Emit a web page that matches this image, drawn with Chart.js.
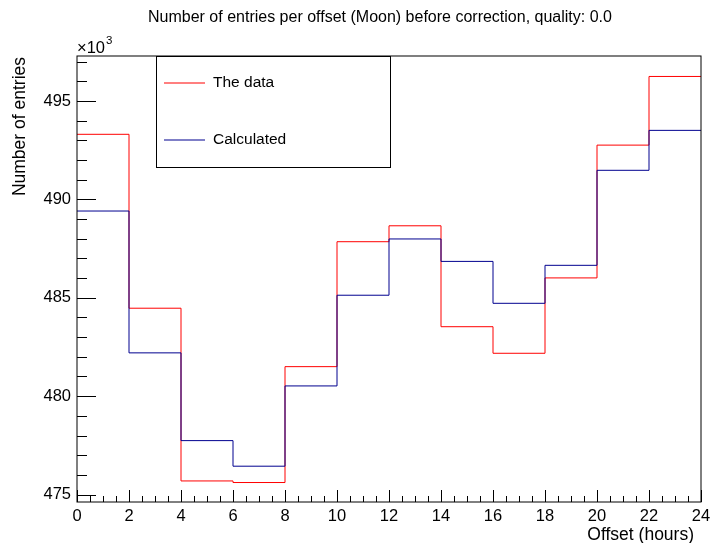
<!DOCTYPE html>
<html>
<head>
<meta charset="utf-8">
<script src="https://cdn.jsdelivr.net/npm/chart.js@4/dist/chart.umd.min.js"></script>
<style>
  html, body { margin: 0; padding: 0; background: #ffffff; }
  #c { display: block; }
</style>
</head>
<body>
<canvas id="c" width="718" height="543"></canvas>
<script>
// Histogram bins: offset in hours (left edge of each 2-hour bin), entries in units of 10^3
const binEdges   = [0, 2, 4, 6, 8, 10, 12, 14, 16, 18, 20, 22, 24];
const theData    = [493.31, 484.47, 475.69, 475.61, 481.50, 487.85, 488.66, 483.53, 482.18, 486.01, 492.76, 496.25];
const calculated = [489.41, 482.20, 477.74, 476.44, 480.52, 485.13, 487.99, 486.85, 484.72, 486.65, 491.48, 493.51];

const xTickValues = [0, 2, 4, 6, 8, 10, 12, 14, 16, 18, 20, 22, 24];
const yTickValues = [475, 480, 485, 490, 495];
const seriesNames = ['The data', 'Calculated'];
const seriesColors = ['#ff0000', '#00008f'];

const chartTitle = 'Number of entries per offset (Moon) before correction, quality: 0.0';
const xTitle = 'Offset (hours)';
const yTitle = 'Number of entries';

const FONT = '"Liberation Sans", Arial, Helvetica, sans-serif';

// A step histogram: one point per bin's left edge, plus a closing point at the last edge
function histPoints(values) {
  const pts = values.map((v, i) => ({ x: binEdges[i], y: v }));
  pts.push({ x: binEdges[binEdges.length - 1], y: values[values.length - 1] });
  return pts;
}

// Frame, inward tick marks, titles, exponent and legend box
const frameAndDecor = {
  id: 'frameAndDecor',
  afterDatasetsDraw(chart) {
    const { ctx, chartArea: a, scales: { x, y } } = chart;
    ctx.save();
    ctx.strokeStyle = '#000';
    ctx.lineWidth = 1;
    ctx.strokeRect(a.left, a.top, a.right - a.left, a.bottom - a.top);

    ctx.beginPath();
    // y ticks: major every 5, minor every 1
    for (let v = Math.ceil(y.min); v <= y.max; v += 1) {
      const py = Math.round(y.getPixelForValue(v)) + 0.5;
      const len = (v % 5 === 0) ? 19 : 10;
      ctx.moveTo(a.left, py);
      ctx.lineTo(a.left + len, py);
    }
    // x ticks: major every 2, minor every 0.5
    for (let k = 0; k <= 48; k++) {
      const v = k * 0.5;
      const px = Math.round(x.getPixelForValue(v)) + 0.5;
      const len = (k % 4 === 0) ? 12 : 6;
      ctx.moveTo(px, a.bottom);
      ctx.lineTo(px, a.bottom - len);
    }
    ctx.stroke();
    ctx.restore();
  },
  afterDraw(chart) {
    const { ctx, chartArea: a } = chart;
    ctx.save();
    ctx.fillStyle = '#000';

    // main title
    ctx.font = '16px ' + FONT;
    ctx.textAlign = 'left';
    ctx.textBaseline = 'middle';
    ctx.fillText(chartTitle, 148, 18);

    // y axis title, right-adjusted near the top of the axis
    ctx.save();
    ctx.translate(20, a.top + 1);
    ctx.rotate(-Math.PI / 2);
    ctx.font = '17.5px ' + FONT;
    ctx.textAlign = 'right';
    ctx.textBaseline = 'middle';
    ctx.fillText(yTitle, 0, 0);
    ctx.restore();

    // x axis title, right-adjusted near the end of the axis
    ctx.font = '17.5px ' + FONT;
    ctx.textAlign = 'right';
    ctx.textBaseline = 'middle';
    ctx.fillText(xTitle, a.right - 7, 535);

    // exponent of the y axis
    ctx.textAlign = 'left';
    ctx.textBaseline = 'alphabetic';
    ctx.font = '16.5px ' + FONT;
    ctx.fillText('\u00d710', a.left, 53);
    const w = ctx.measureText('\u00d710').width;
    ctx.font = '11.5px ' + FONT;
    ctx.fillText('3', a.left + w + 1, 44);

    // legend box
    const bx = 156, by = a.top, bw = 234, bh = 111;
    ctx.fillStyle = '#fff';
    ctx.fillRect(bx, by, bw, bh);
    ctx.strokeStyle = '#000';
    ctx.lineWidth = 1;
    ctx.strokeRect(bx + 0.5, by + 0.5, bw, bh);
    const rowsY = [by + 27, by + 84];
    seriesNames.forEach((name, i) => {
      ctx.strokeStyle = seriesColors[i];
      ctx.lineWidth = 1.2;
      ctx.beginPath();
      ctx.moveTo(bx + 8, rowsY[i]);
      ctx.lineTo(bx + 49, rowsY[i]);
      ctx.stroke();
      ctx.fillStyle = '#000';
      ctx.font = '15.5px ' + FONT;
      ctx.textAlign = 'left';
      ctx.textBaseline = 'middle';
      ctx.fillText(name, bx + 57, rowsY[i]);
    });
    ctx.restore();
  }
};

new Chart(document.getElementById('c'), {
  type: 'line',
  data: {
    datasets: [
      {
        label: seriesNames[0],
        data: histPoints(theData),
        borderColor: seriesColors[0],
        borderWidth: 1,
        stepped: 'before',
        pointRadius: 0,
        fill: false,
        order: 2
      },
      {
        label: seriesNames[1],
        data: histPoints(calculated),
        borderColor: seriesColors[1],
        borderWidth: 1,
        stepped: 'before',
        pointRadius: 0,
        fill: false,
        order: 1
      }
    ]
  },
  options: {
    responsive: false,
    animation: false,
    devicePixelRatio: 1,
    layout: { padding: { left: 0, right: 17, top: 56, bottom: 0 } },
    plugins: {
      legend: { display: false },
      tooltip: { enabled: false },
      title: { display: false }
    },
    scales: {
      x: {
        type: 'linear',
        min: 0,
        max: 24,
        afterBuildTicks: s => { s.ticks = xTickValues.map(v => ({ value: v })); },
        afterFit: s => { s.height = 41; },
        grid: { display: false, drawTicks: false },
        border: { display: false },
        ticks: { color: '#000', font: { family: FONT, size: 16.5 }, padding: 5, maxRotation: 0, autoSkip: false }
      },
      y: {
        type: 'linear',
        min: 474.62,
        max: 497.29,
        afterBuildTicks: s => { s.ticks = yTickValues.map(v => ({ value: v })); },
        afterFit: s => { s.width = 77; },
        grid: { display: false, drawTicks: false },
        border: { display: false },
        ticks: { color: '#000', font: { family: FONT, size: 16.5 }, padding: 6, autoSkip: false }
      }
    }
  },
  plugins: [frameAndDecor]
});
</script>
</body>
</html>
